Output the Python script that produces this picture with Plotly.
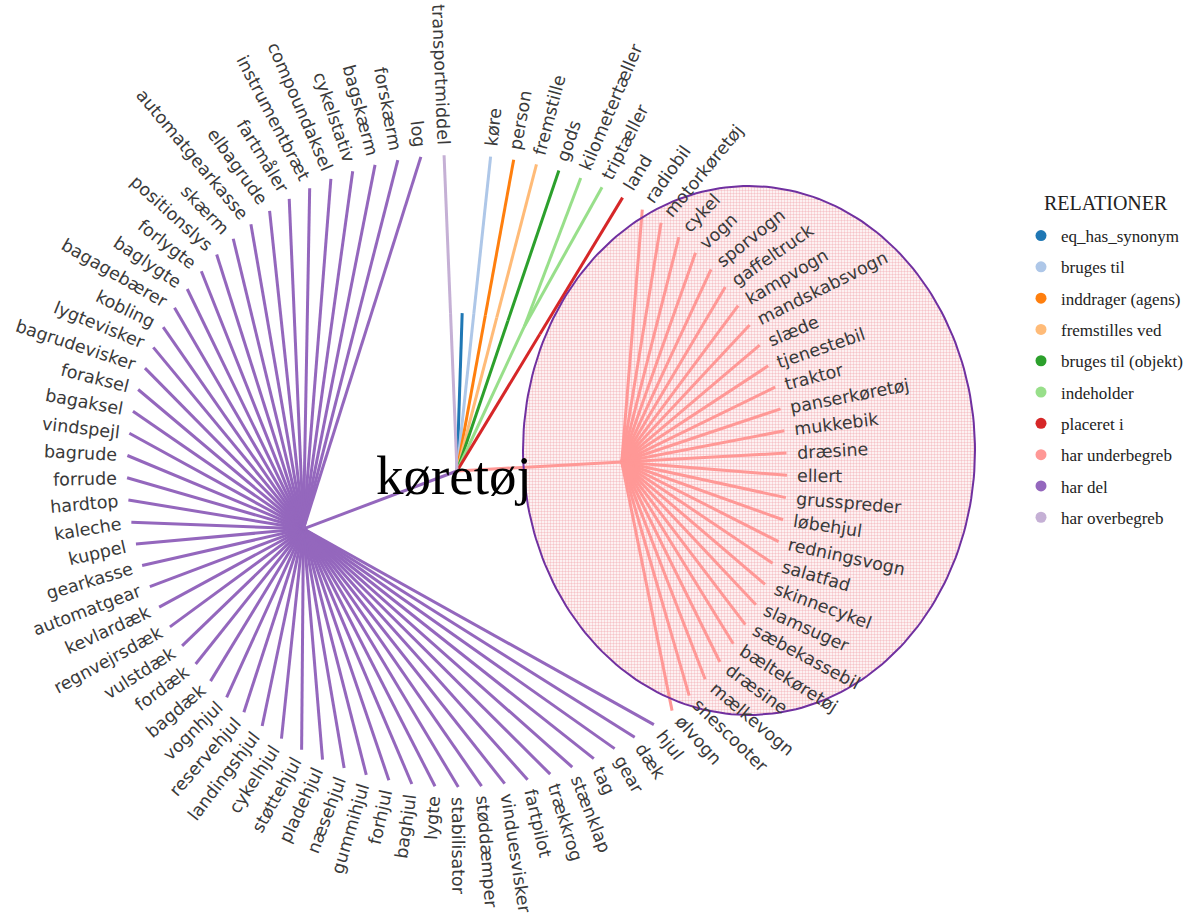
import math
import plotly.graph_objects as go

# ---------------- data ----------------
ROOT = "køretøj"
LEGEND_TITLE = "RELATIONER"

relations = ["eq_has_synonym", "bruges til", "inddrager (agens)", "fremstilles ved",
             "bruges til (objekt)", "indeholder", "placeret i", "har underbegreb",
             "har del", "har overbegreb"]
colors = ["#1f77b4", "#aec7e8", "#ff7f0e", "#ffbb78", "#2ca02c", "#98df8a",
          "#d62728", "#ff9896", "#9467bd", "#c5b0d5"]

eq_has_synonym = []
bruges_til = ["køre"]
inddrager_agens = ["person"]
fremstilles_ved = ["fremstille"]
bruges_til_objekt = ["gods"]
indeholder = ["kilometertæller", "triptæller"]
placeret_i = ["land"]
har_underbegreb = ["radiobil", "motorkøretøj", "cykel", "vogn", "sporvogn", "gaffeltruck",
                   "kampvogn", "mandskabsvogn", "slæde", "tjenestebil", "traktor",
                   "panserkøretøj", "mukkebik", "dræsine", "ellert", "grusspreder",
                   "løbehjul", "redningsvogn", "salatfad", "skinnecykel", "slamsuger",
                   "sæbekassebil", "bæltekøretøj", "dræsine", "mælkevogn", "snescooter",
                   "ølvogn"]
har_del = ["hjul", "dæk", "gear", "tag", "stænklap", "trækkrog", "fartpilot",
           "vinduesvisker", "støddæmper", "stabilisator", "lygte", "baghjul", "forhjul",
           "gummihjul", "næsehjul", "pladehjul", "støttehjul", "cykelhjul", "landingshjul",
           "reservehjul", "vognhjul", "bagdæk", "fordæk", "vulstdæk", "regnvejrsdæk",
           "kevlardæk", "automatgear", "gearkasse", "kuppel", "kaleche", "hardtop",
           "forrude", "bagrude", "vindspejl", "bagaksel", "foraksel", "bagrudevisker",
           "lygtevisker", "kobling", "bagagebærer", "baglygte", "forlygte", "positionslys",
           "skærm", "automatgearkasse", "elbagrude", "fartmåler", "instrumentbræt",
           "compoundaksel", "cykelstativ", "bagskærm", "forskærm", "log"]
har_overbegreb = ["transportmiddel"]

children = [eq_has_synonym, bruges_til, inddrager_agens, fremstilles_ved,
            bruges_til_objekt, indeholder, placeret_i, har_underbegreb,
            har_del, har_overbegreb]

# ---------------- layout parameters ----------------
W, H = 1198, 917
CX, CY = 457, 471          # root position (px)
RX, RY = 330, 316          # leaf radius (depth 2)
START_ANGLE = 1.8          # degrees clockwise from 12 o'clock for first slot
LABEL_FONT = "DejaVu Sans"
LABEL_SIZE = 17.5
LABEL_GAP = 10
HILITE = dict(cx=749, cy=450.5, rx=226, ry=264.5)

# DejaVu Sans advance widths (em)
CW = {'a': .613, 'b': .635, 'c': .550, 'd': .635, 'e': .615, 'f': .352, 'g': .635,
      'h': .634, 'i': .278, 'j': .278, 'k': .579, 'l': .278, 'm': .974, 'n': .634,
      'o': .612, 'p': .635, 'q': .635, 'r': .411, 's': .521, 't': .392, 'u': .634,
      'v': .592, 'w': .818, 'x': .592, 'y': .592, 'z': .525, 'æ': .982, 'ø': .612,
      'å': .613, ' ': .318}


def text_width(s, size):
    return sum(CW.get(c, .6) for c in s) * size


def polar(theta, depth):
    t = math.radians(theta)
    return CX + depth / 2 * RX * math.sin(t), CY - depth / 2 * RY * math.cos(t)


n_slots = sum(max(1, len(c)) for c in children)
step = 360.0 / n_slots

fig = go.Figure()

# highlight ellipse (patterned fill)
ts = [2 * math.pi * k / 240 for k in range(241)]
ex = [HILITE['cx'] + HILITE['rx'] * math.cos(t) for t in ts]
ey = [HILITE['cy'] + HILITE['ry'] * math.sin(t) for t in ts]
fig.add_trace(go.Scatter(
    x=ex, y=ey, mode="lines", fill="toself", line=dict(width=0, color="#7030a0"),
    fillcolor="rgba(0,0,0,0)",
    fillpattern=dict(shape=".", fgcolor="#ee8a94", bgcolor="#ffffff", size=3, solidity=0.5),
    hoverinfo="skip", showlegend=False))

annotations = []
slot = 0
for rel, col, kids in zip(relations, colors, children):
    k = max(1, len(kids))
    angles = [START_ANGLE + (slot + i) * step for i in range(k)]
    slot += k
    hub_angle = (angles[0] + angles[-1]) / 2
    hx, hy = polar(hub_angle, 1)
    xs, ys = [CX, hx, None], [CY, hy, None]
    for name, ang in zip(kids, angles):
        lx, ly = polar(ang, 2)
        xs += [hx, lx, None]
        ys += [hy, ly, None]
        dx, dy = lx - CX, ly - CY
        nrm = math.hypot(dx, dy)
        ux, uy = dx / nrm, dy / nrm
        rot = math.degrees(math.atan2(uy, ux))
        if ang % 360 > 180:
            rot += 180
        if rot > 180:
            rot -= 360
        off = LABEL_GAP + text_width(name, LABEL_SIZE) / 2
        annotations.append(dict(
            x=lx + ux * off, y=ly + uy * off, xref="x", yref="y", text=name,
            showarrow=False, textangle=rot, xanchor="center", yanchor="middle",
            font=dict(family=LABEL_FONT, size=LABEL_SIZE, color="#3a3a3a")))
    fig.add_trace(go.Scatter(x=xs, y=ys, mode="lines", line=dict(color=col, width=3),
                             legendgroup=rel, showlegend=False, hoverinfo="skip"))

# ellipse outline on top of lines
fig.add_trace(go.Scatter(x=ex, y=ey, mode="lines", line=dict(width=2, color="#7030a0"),
                         hoverinfo="skip", showlegend=False))

# legend entries
for rel, col in zip(relations, colors):
    fig.add_trace(go.Scatter(x=[None], y=[None], mode="markers", name=rel,
                             legendgroup=rel,
                             marker=dict(color=col, size=11, symbol="circle")))

annotations.append(dict(x=454, y=475, xref="x", yref="y", text=ROOT, showarrow=False,
                        xanchor="center", yanchor="middle",
                        font=dict(family="Liberation Serif", size=55, color="#000")))
annotations.append(dict(x=1042 / W, y=1 - 203 / H, xref="paper", yref="paper",
                        text=LEGEND_TITLE, showarrow=False, xanchor="left", yanchor="middle",
                        font=dict(family="Liberation Serif", size=20, color="#222")))

fig.update_layout(
    width=W, height=H, margin=dict(l=0, r=0, t=0, b=0),
    paper_bgcolor="white", plot_bgcolor="white",
    xaxis=dict(range=[0, W], visible=False, fixedrange=True),
    yaxis=dict(range=[H, 0], visible=False, fixedrange=True),
    annotations=annotations,
    legend=dict(x=1021 / W, y=1 - 218 / H, xanchor="left", yanchor="top",
                font=dict(family="Liberation Serif", size=17, color="#222"),
                traceorder="grouped", tracegroupgap=6.2, itemwidth=30,
                bgcolor="rgba(0,0,0,0)"),
)

# remove the default 8px page margin so the figure sits at the window origin
fig.write_html("out.html", config={"displayModeBar": False},
               post_script="document.body.style.margin='0';document.body.style.overflow='hidden';")
